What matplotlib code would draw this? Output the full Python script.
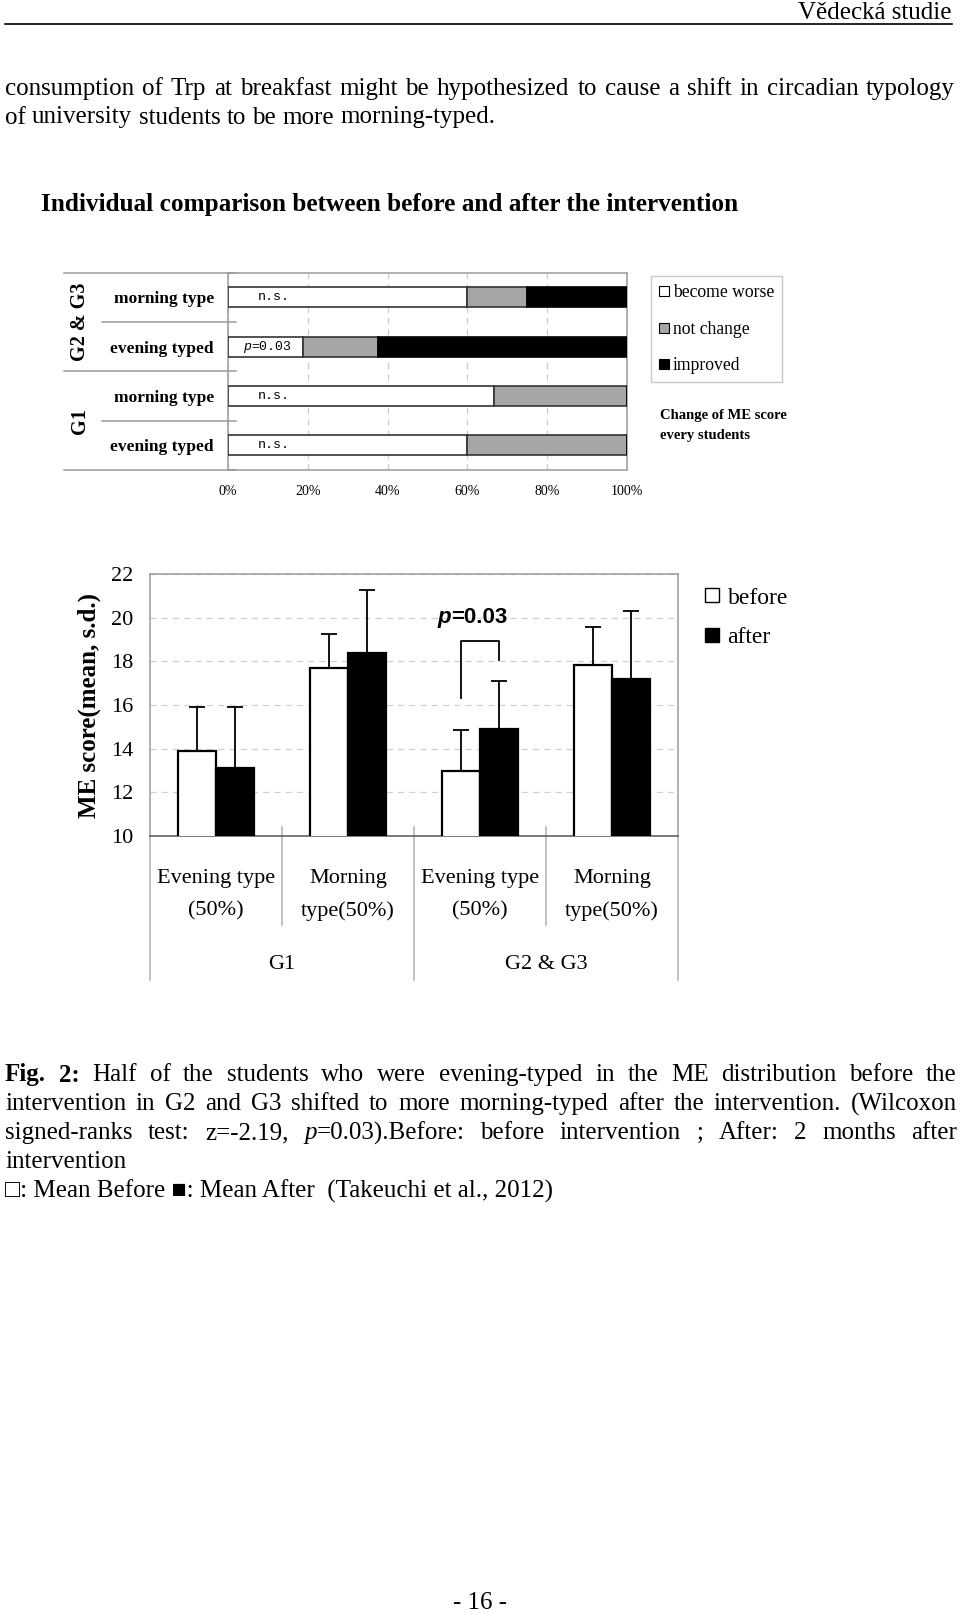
import re

import matplotlib
matplotlib.use("Agg")
import matplotlib.pyplot as plt
import matplotlib.transforms as mtransforms
from matplotlib.lines import Line2D

SERIF = ["Liberation Serif", "DejaVu Serif"]
MONO = ["Liberation Mono", "DejaVu Sans Mono"]
SANS = ["Liberation Sans", "DejaVu Sans"]

# --- top chart: share of students per change category (%) ---
row_labels = ["morning type", "evening typed", "morning type", "evening typed"]
row_groups = ["G2 & G3", "G1"]
worse = [60, 18.75, 66.7, 60]
not_change = [15, 18.75, 33.3, 40]
improved = [25, 62.5, 0, 0]
row_notes = ["n.s.", "p=0.03", "n.s.", "n.s."]
pct_ticks = [0, 20, 40, 60, 80, 100]

# --- bottom chart: ME score mean and s.d. ---
categories = ["Evening type\n(50%)", "Morning\ntype(50%)", "Evening type\n(50%)", "Morning\ntype(50%)"]
cat_groups = ["G1", "G2 & G3"]
before_mean = [13.9, 17.7, 13.0, 17.85]
before_sd = [2.0, 1.55, 1.85, 1.7]
after_mean = [13.1, 18.4, 14.9, 17.2]
after_sd = [2.8, 2.85, 2.2, 3.1]
me_ticks = [10, 12, 14, 16, 18, 20, 22]

# --- page text ---
header = "Vědecká studie"
para_lines = [
    "consumption of Trp at breakfast might be hypothesized to cause a shift in circadian typology",
    "of university students to be more morning-typed.",
]
fig_title = "Individual comparison between before and after the intervention"
caption_lines = [
    "*Fig.* *2:* Half of the students who were evening-typed in the ME distribution before the",
    "intervention in G2 and G3 shifted to more morning-typed after the intervention. (Wilcoxon",
    "signed-ranks test: z=-2.19, _p_=0.03).Before: before intervention ; After: 2 months after",
    "intervention",
]
caption_last = "\u25a1: Mean Before \u25a0: Mean After  (Takeuchi et al., 2012)"

BODY = 18

W, H = 960, 1613
fig = plt.figure(figsize=(W / 100, H / 100), dpi=100)
page = fig.add_axes([0, 0, 1, 1])
page.set_xlim(0, W)
page.set_ylim(H, 0)
page.axis("off")


def px_axes(left, top, right, bottom):
    return fig.add_axes([left / W, 1 - bottom / H, (right - left) / W, (bottom - top) / H])


def draw_line(y, line, x0, x1, justify, size=BODY):
    # split words into runs: *bold*, _italic_
    words = []
    for word in line.split(" "):
        runs = []
        for part in re.split(r"(\*[^*]+\*|_[^_]+_)", word):
            if not part:
                continue
            if part.startswith("*"):
                runs.append((part[1:-1], "bold", "normal"))
            elif part.startswith("_"):
                runs.append((part[1:-1], "normal", "italic"))
            else:
                runs.append((part, "normal", "normal"))
        words.append(runs)
    texts = []
    for runs in words:
        texts.append([page.text(0, y, s, fontsize=size, fontweight=wt, fontstyle=st,
                                family=SERIF, va="center", ha="left") for s, wt, st in runs])
    renderer = fig.canvas.get_renderer()
    widths = [[t.get_window_extent(renderer).width for t in parts] for parts in texts]
    total = sum(sum(w) for w in widths)
    if justify and len(words) > 1:
        gap = (x1 - x0 - total) / (len(words) - 1)
    else:
        gap = size * 0.25 * 100 / 72
    x = x0
    for parts, ws in zip(texts, widths):
        for t, w in zip(parts, ws):
            t.set_x(x)
            x += w
        x += gap


# header
page.text(952, 13, header, fontsize=BODY, family=SERIF, ha="right", va="center")
page.plot([5, 952], [24, 24], color="black", lw=1.2)

draw_line(89, para_lines[0], 5, 955, True)
draw_line(117.5, para_lines[1], 5, 955, False)

page.text(41, 204, fig_title, fontsize=18.2, fontweight="bold", family=SERIF, va="center")

# ---------------- top chart ----------------
ax1 = px_axes(228, 272.7, 627, 470)
rows = list(range(len(row_labels)))
frame_grey = "#9a9a9a"
ax1.barh(rows, worse, height=0.4, color="white", edgecolor="#333333", lw=1.2, zorder=3)
ax1.barh(rows, not_change, left=worse, height=0.4, color="#a6a6a6", edgecolor="#333333", lw=1.2, zorder=3)
left2 = [a + b for a, b in zip(worse, not_change)]
ax1.barh(rows, improved, left=left2, height=0.4, color="black", edgecolor="black", lw=1.2, zorder=3)
ax1.set_xlim(0, 100)
ax1.set_ylim(3.5, -0.5)
ax1.set_xticks(pct_ticks)
ax1.set_xticklabels([f"{v}%" for v in pct_ticks], family=SERIF, fontsize=10)
ax1.set_yticks(rows)
ax1.set_yticklabels(row_labels, family=SERIF, fontsize=12.5, fontweight="bold")
ax1.tick_params(axis="both", length=0)
ax1.tick_params(axis="x", pad=11)
ax1.tick_params(axis="y", pad=10)
ax1.xaxis.grid(True, ls=(0, (5, 4)), color="#cccccc", lw=0.9)
ax1.set_axisbelow(True)
for sp in ax1.spines.values():
    sp.set_color(frame_grey)
    sp.set_linewidth(1.1)

blend1 = mtransforms.blended_transform_factory(ax1.transAxes, ax1.transData)
for y, x0 in [(-0.5, -0.411), (0.5, -0.316), (1.5, -0.411), (2.5, -0.316), (3.5, -0.411)]:
    ax1.plot([x0, 0.02], [y, y], color=frame_grey, lw=1.1, transform=blend1, clip_on=False)
for i, g in enumerate(row_groups):
    ax1.text(-0.371, 0.5 + 2 * i, g, transform=blend1, rotation=90, ha="center", va="center",
             family=SERIF, fontsize=14.5, fontweight="bold")

for r, note in zip(rows, row_notes):
    if note.startswith("p"):
        ax1.text(3.8, r, "p", family=MONO, fontsize=9.5, style="italic", va="center", zorder=4)
        ax1.annotate(note[1:], (3.8, r), xytext=(0.6 * 9.5, 0), textcoords="offset points",
                     family=MONO, fontsize=9.5, va="center", zorder=4)
    else:
        ax1.text(7.5, r, note, family=MONO, fontsize=9.5, va="center", zorder=4)

h_top = [Line2D([], [], ls="none", marker="s", markersize=7.5, markerfacecolor=c,
                markeredgecolor="black", markeredgewidth=0.8) for c in ["white", "#a6a6a6", "black"]]
leg_top = page.legend(h_top, ["become worse", "not change", "improved"], loc="upper left",
                      bbox_to_anchor=(651, 276), bbox_transform=page.transData,
                      prop={"family": SERIF, "size": 12.7}, frameon=True, fancybox=False,
                      edgecolor="#bbbbbb", handlelength=0.55, handletextpad=0.25, labelspacing=1.12,
                      borderpad=0.45, borderaxespad=0)
leg_top.get_frame().set_linewidth(1.0)
page.add_artist(leg_top)
page.text(660, 415, "Change of ME score", family=SERIF, fontsize=10.5, fontweight="bold", va="center")
page.text(660, 435, "every students", family=SERIF, fontsize=10.5, fontweight="bold", va="center")

# ---------------- bottom chart ----------------
ax2 = px_axes(150, 574, 678, 836)
xs = list(range(len(categories)))
bw = 0.29
xb = [x - bw / 2 for x in xs]
xa = [x + bw / 2 for x in xs]
ax2.bar(xb, before_mean, width=bw, bottom=0, color="white", edgecolor="black", lw=1.6, zorder=3)
ax2.bar(xa, after_mean, width=bw, bottom=0, color="black", edgecolor="black", lw=1.6, zorder=3)
ax2.errorbar(xb, before_mean, yerr=[[0] * 4, before_sd], fmt="none", ecolor="black",
             elinewidth=1.3, capsize=5.5, capthick=1.3, zorder=2)
ax2.errorbar(xa, after_mean, yerr=[[0] * 4, after_sd], fmt="none", ecolor="black",
             elinewidth=1.3, capsize=5.5, capthick=1.3, zorder=2)
ax2.set_xlim(-0.5, 3.5)
ax2.set_ylim(10, 22)
ax2.set_yticks(me_ticks)
ax2.set_yticklabels([str(v) for v in me_ticks], family=SERIF, fontsize=16)
ax2.set_xticks([])
ax2.tick_params(axis="y", length=0, pad=12)
ax2.yaxis.grid(True, ls=(0, (5, 4)), color="#d0d0d0", lw=0.9)
ax2.set_axisbelow(True)
for sp in ax2.spines.values():
    sp.set_color(frame_grey)
    sp.set_linewidth(1.1)
ax2.spines["bottom"].set_color("#555555")
ax2.set_ylabel("ME score(mean, s.d.)", family=SERIF, fontsize=18, fontweight="bold")
ax2.yaxis.set_label_coords(-0.093, 0.5)

# bracket + p value between G2&G3 evening bars
ax2.plot([xb[2], xb[2], xa[2], xa[2]], [16.3, 18.95, 18.95, 18.05], color="black", lw=1.3)
ptxt = ax2.text(1.94, 20.0, "p", family=SANS, fontsize=16, fontweight="bold", style="italic",
                ha="left", va="center")
rest = ax2.text(1.94, 20.0, "=0.03", family=SANS, fontsize=16, fontweight="bold",
                ha="left", va="center")
rend = fig.canvas.get_renderer()
wp = ptxt.get_window_extent(rend).width
wr = rest.get_window_extent(rend).width
cx = ax2.transData.transform((1.94, 20.0))[0]
inv = ax2.transData.inverted()
ptxt.set_x(inv.transform((cx - (wp + wr) / 2, 0))[0])
rest.set_x(inv.transform((cx - (wp + wr) / 2 + wp, 0))[0])

blend2 = mtransforms.blended_transform_factory(ax2.transData, ax2.transAxes)
for xv, y0, y1 in [(-0.5, 0, -0.55), (0.5, 0.034, -0.34), (1.5, 0.034, -0.55),
                   (2.5, 0.034, -0.34), (3.5, 0, -0.55)]:
    ax2.plot([xv, xv], [y0, y1], color="#b0b0b0", lw=1.1, transform=blend2, clip_on=False)
for x, c in zip(xs, categories):
    ax2.text(x, -0.225, c, transform=blend2, ha="center", va="center", family=SERIF,
             fontsize=16, linespacing=1.9)
for i, g in enumerate(cat_groups):
    ax2.text(0.5 + 2 * i, -0.492, g, transform=blend2, ha="center", va="center",
             family=SERIF, fontsize=16)

h_bot = [Line2D([], [], ls="none", marker="s", markersize=10.5, markerfacecolor=c,
                markeredgecolor="black", markeredgewidth=1.0) for c in ["white", "black"]]
page.legend(h_bot, ["before", "after"], loc="upper left",
            bbox_to_anchor=(704, 587), bbox_transform=page.transData,
            prop={"family": SERIF, "size": 17}, frameon=False,
            handlelength=0.7, handletextpad=0.3, labelspacing=0.75, borderpad=0, borderaxespad=0)

# caption
cap_y = [1075, 1104, 1133, 1162]
for i, (y, line) in enumerate(zip(cap_y, caption_lines)):
    draw_line(y, line, 5, 957, i < 3)
page.text(5, 1191, caption_last, family=SERIF, fontsize=BODY, va="center")

page.text(480, 1603, "- 16 -", family=SERIF, fontsize=BODY, ha="center", va="center")

fig.savefig("out.png", dpi=100)
